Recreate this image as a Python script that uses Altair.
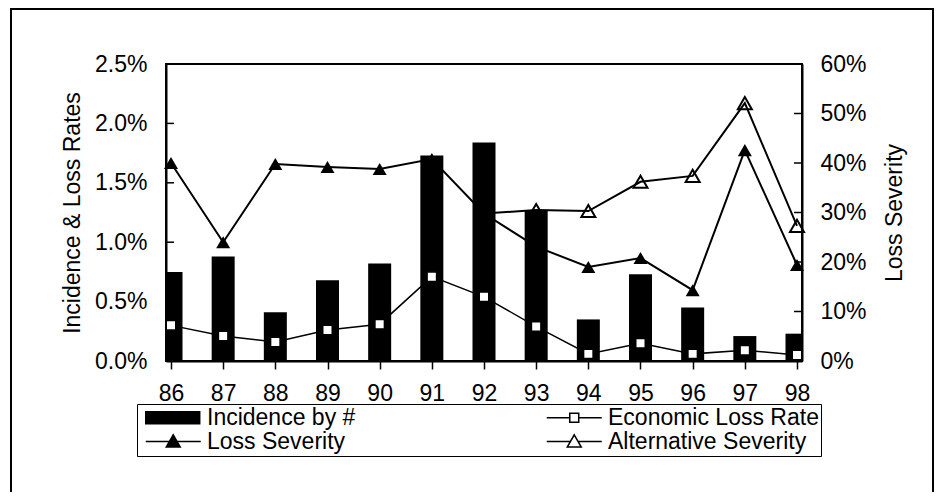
import altair as alt
import pandas as pd

# ---- data ----
years = [86, 87, 88, 89, 90, 91, 92, 93, 94, 95, 96, 97, 98]
incidence_pct = [0.75, 0.88, 0.41, 0.68, 0.82, 1.73, 1.84, 1.27, 0.35, 0.73, 0.45, 0.21, 0.23]
econ_loss_pct = [0.30, 0.21, 0.16, 0.26, 0.31, 0.71, 0.54, 0.29, 0.06, 0.15, 0.06, 0.09, 0.05]
severity_pct = [40.0, 24.0, 39.8, 39.2, 38.8, 40.8, 29.8, 23.1, 19.0, 20.8, 14.3, 42.6, 19.4]
alt_years = [92, 93, 94, 95, 96, 97, 98]
alt_severity_pct = [29.8, 30.5, 30.3, 36.2, 37.4, 52.1, 27.3]

left_ticks = [0.0, 0.005, 0.01, 0.015, 0.02, 0.025]
right_ticks = [0.0, 0.1, 0.2, 0.3, 0.4, 0.5, 0.6]

# legend entries (column-major: left column first)
legend_names = ["Incidence by #", "Loss Severity", "Economic Loss Rate", "Alternative Severity"]
legend_paths = [
    "M-0.68,-0.86H7.03V0.86H-0.68Z",
    "M-0.68,0H7.18M3.25,-0.95L4.25,0.8H2.25Z",
    "M-0.68,0H2.61M3.89,0H7.18M2.61,-0.64H3.89V0.64H2.61Z",
    "M-0.68,0H2.71M3.79,0H7.18M3.25,-0.95L4.25,0.8H2.25Z",
]
legend_fills = ["black", "black", "white", "white"]

FONT = "Liberation Sans"

main = pd.DataFrame({
    "year": years,
    "inc": [v / 100 for v in incidence_pct],
    "econ": [v / 100 for v in econ_loss_pct],
    "sev": [v / 100 for v in severity_pct],
})
altdf = pd.DataFrame({"year": alt_years, "alt": [v / 100 for v in alt_severity_pct]})
lt_df = pd.DataFrame({"t": left_ticks})
rt_df = pd.DataFrame({"t": right_ticks})
leg_df = pd.DataFrame({"series": legend_names})

x_scale = alt.Scale(domain=[86, 98], nice=False, zero=False)
x_axis = alt.Axis(values=years, format="d", title=None, tickSize=8, labelPadding=13,
                  labelFlush=False, labelOverlap=False, grid=False)
yL = alt.Scale(domain=[0, 0.025], nice=False, zero=True)
yR = alt.Scale(domain=[0, 0.6], nice=False, zero=True)

left_axis = alt.Axis(
    orient="left", title="Incidence & Loss Rates", values=left_ticks, format=".1%",
    ticks=False, labelPadding=19, titlePadding=10, grid=False)
right_axis = alt.Axis(
    orient="right", title="Loss Severity", values=right_ticks, format=".0%",
    ticks=False, labelPadding=18, titlePadding=17, titleAngle=270, titleBaseline="top",
    grid=False)

X = alt.X("year:Q", scale=x_scale, axis=x_axis)

frame = alt.Chart(pd.DataFrame({"a": [0]})).mark_rect(
    fill="transparent", stroke="black", strokeWidth=2
).encode(x=alt.value(-155), x2=alt.value(767), y=alt.value(-55), y2=alt.value(460))

bars = alt.Chart(main).mark_bar(size=23, clip=True, color="black").encode(
    x=X, y=alt.Y("inc:Q", scale=yL, axis=left_axis))
econ_line = alt.Chart(main).mark_line(color="black", strokeWidth=1.5).encode(
    x=X, y=alt.Y("econ:Q", scale=yL, axis=left_axis))
econ_pts = alt.Chart(main).mark_point(
    shape="square", size=90, filled=True, fill="white", stroke="black", strokeWidth=1.5, opacity=1
).encode(x=X, y=alt.Y("econ:Q", scale=yL, axis=left_axis))
lticks = alt.Chart(lt_df).mark_rule(color="black", strokeWidth=1.5).encode(
    y=alt.Y("t:Q", scale=yL, axis=left_axis), x=alt.value(0), x2=alt.value(8))

leg = alt.Legend(
    orient="none", legendX=-29, legendY=340, title=None, columns=2,
    labelFontSize=23, labelFont=FONT, labelColor="black", labelLimit=400,
    symbolSize=196, symbolStrokeWidth=1.5, symbolStrokeColor="black",
    labelOffset=45, strokeColor="black", padding=2, rowPadding=-8, columnPadding=184,
)
legend_layer = alt.Chart(leg_df).mark_point(
    clip=True, filled=True, opacity=1, size=196, strokeWidth=1.5
).encode(
    x=alt.value(-100), y=alt.value(-100),
    shape=alt.Shape("series:N", scale=alt.Scale(domain=legend_names, range=legend_paths), legend=leg),
    fill=alt.Fill("series:N", scale=alt.Scale(domain=legend_names, range=legend_fills), legend=leg),
    stroke=alt.Stroke("series:N", scale=alt.Scale(domain=legend_names, range=["black"] * 4), legend=leg),
)

left = alt.layer(frame, bars, econ_line, econ_pts, lticks, legend_layer)

sev_line = alt.Chart(main).mark_line(color="black", strokeWidth=2).encode(
    x=X, y=alt.Y("sev:Q", scale=yR, axis=right_axis))
sev_pts = alt.Chart(main).mark_point(
    shape="triangle-up", size=196, filled=True, color="black", opacity=1
).encode(x=X, y=alt.Y("sev:Q", scale=yR, axis=right_axis))
alt_line = alt.Chart(altdf).mark_line(color="black", strokeWidth=2).encode(
    x=X, y=alt.Y("alt:Q", scale=yR, axis=right_axis))
alt_pts = alt.Chart(altdf).mark_point(
    shape="triangle-up", size=196, filled=False, stroke="black", strokeWidth=2, opacity=1
).encode(x=X, y=alt.Y("alt:Q", scale=yR, axis=right_axis))
rticks = alt.Chart(rt_df).mark_rule(color="black", strokeWidth=1.5).encode(
    y=alt.Y("t:Q", scale=yR, axis=right_axis), x=alt.value(628), x2=alt.value(636))

right = alt.layer(sev_line, sev_pts, alt_line, alt_pts, rticks)

chart = alt.layer(left, right).resolve_scale(y="independent").properties(
    width=636, height=297,
    padding={"left": 158, "top": 56, "right": 133, "bottom": 131},
    autosize=alt.AutoSizeParams(type="none"),
).configure(font=FONT).configure_view(
    stroke="black", strokeWidth=2
).configure_axis(
    domainColor="black", domainWidth=2, tickColor="black", tickWidth=1.5,
    labelColor="black", titleColor="black", labelFontSize=23, titleFontSize=23,
    titleFontWeight="normal", labelFont=FONT, titleFont=FONT,
)

chart.save("out.html", embed_options={"renderer": "svg", "actions": False})
